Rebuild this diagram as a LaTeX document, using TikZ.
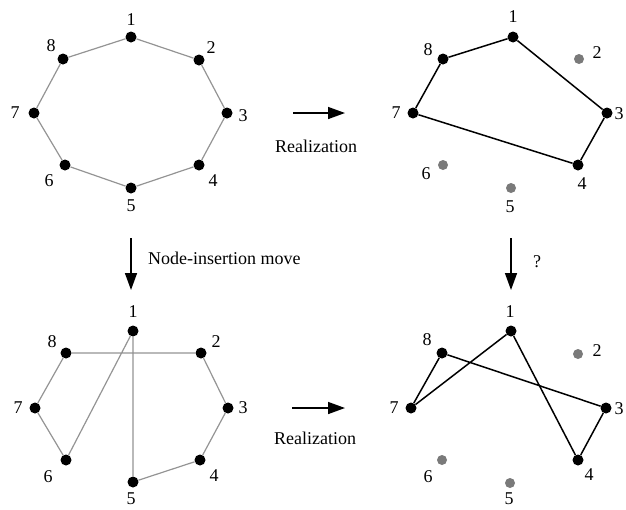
\documentclass[tikz,border=0pt]{standalone}
\usepackage{fontspec}
\setmainfont{Liberation Serif}
\usetikzlibrary{arrows.meta}

\tikzset{
  vtx/.style={circle, fill=black, inner sep=0pt, minimum size=11pt},
  ghost/.style={circle, fill=black!52, inner sep=0pt, minimum size=10pt},
  num/.style={font=\fontsize{18}{20}\selectfont, inner sep=0pt},
  greyedge/.style={draw=black!42, line width=1.2pt},
  realedge/.style={draw=black, line width=1.5pt},
  move/.style={line width=1.5pt, -{Triangle[length=17pt, width=12pt]}},
}

\begin{document}
\begin{tikzpicture}[x=1pt, y=-1pt]
    \useasboundingbox (0,0) rectangle (626,509);

    % Top left: the original cycle
    \node[vtx] (a1) at (131,37) {};
    \node[vtx] (a2) at (199,60) {};
    \node[vtx] (a3) at (227,113) {};
    \node[vtx] (a4) at (199,165) {};
    \node[vtx] (a5) at (131,188) {};
    \node[vtx] (a6) at (65,165) {};
    \node[vtx] (a7) at (34,113) {};
    \node[vtx] (a8) at (63,59) {};
    \node[num] (a1l) at (131,20) {1};
    \node[num] (a2l) at (211,48) {2};
    \node[num] (a3l) at (243,116) {3};
    \node[num] (a4l) at (213,181) {4};
    \node[num] (a5l) at (131,206) {5};
    \node[num] (a6l) at (49,181) {6};
    \node[num] (a7l) at (15,113) {7};
    \node[num] (a8l) at (51,46) {8};
    \draw[greyedge] (a1) -- (a2) -- (a3) -- (a4) -- (a5) -- (a6) -- (a7) -- (a8) -- (a1);

    % Top right: its realization
    \node[vtx] (b1) at (513,37) {};
    \node[ghost] (b2) at (579,59) {};
    \node[vtx] (b3) at (607,113) {};
    \node[vtx] (b4) at (578,165) {};
    \node[ghost] (b5) at (511,188) {};
    \node[ghost] (b6) at (443,165) {};
    \node[vtx] (b7) at (413,113) {};
    \node[vtx] (b8) at (443,59) {};
    \node[num] (b1l) at (513,17) {1};
    \node[num] (b2l) at (597,53) {2};
    \node[num] (b3l) at (619,114) {3};
    \node[num] (b4l) at (582,184) {4};
    \node[num] (b5l) at (510,207) {5};
    \node[num] (b6l) at (426,174) {6};
    \node[num] (b7l) at (396,113) {7};
    \node[num] (b8l) at (428,50) {8};
    \draw[realedge] (b1) -- (b8) -- (b7) -- (b4) -- (b3) -- (b1);

    % Bottom left: after the node-insertion move
    \node[vtx] (c1) at (133,331) {};
    \node[vtx] (c2) at (201,353) {};
    \node[vtx] (c3) at (228,408) {};
    \node[vtx] (c4) at (200,460) {};
    \node[vtx] (c5) at (133,482) {};
    \node[vtx] (c6) at (66,460) {};
    \node[vtx] (c7) at (35,408) {};
    \node[vtx] (c8) at (66,353) {};
    \node[num] (c1l) at (133,312) {1};
    \node[num] (c2l) at (216,342) {2};
    \node[num] (c3l) at (243,408) {3};
    \node[num] (c4l) at (214,476) {4};
    \node[num] (c5l) at (131,499) {5};
    \node[num] (c6l) at (48,477) {6};
    \node[num] (c7l) at (18,408) {7};
    \node[num] (c8l) at (52,342) {8};
    \draw[greyedge] (c8) -- (c2) -- (c3) -- (c4) -- (c5) -- (c1) -- (c6) -- (c7) -- (c8);

    % Bottom right: its realization
    \node[vtx] (d1) at (511,331) {};
    \node[ghost] (d2) at (578,354) {};
    \node[vtx] (d3) at (606,408) {};
    \node[vtx] (d4) at (578,460) {};
    \node[ghost] (d5) at (510,483) {};
    \node[ghost] (d6) at (442,460) {};
    \node[vtx] (d7) at (411,408) {};
    \node[vtx] (d8) at (442,353) {};
    \node[num] (d1l) at (510,312) {1};
    \node[num] (d2l) at (597,351) {2};
    \node[num] (d3l) at (619,409) {3};
    \node[num] (d4l) at (589,475) {4};
    \node[num] (d5l) at (509,499) {5};
    \node[num] (d6l) at (428,477) {6};
    \node[num] (d7l) at (394,408) {7};
    \node[num] (d8l) at (427,340) {8};
    \draw[realedge] (d8) -- (d7) -- (d1) -- (d4) -- (d3) -- (d8);

    % Moves between the panels
    \coordinate (h1s) at (293,113);
    \coordinate (h1e) at (345,113);
    \coordinate (h2s) at (292,408);
    \coordinate (h2e) at (345,408);
    \coordinate (v1s) at (131,238);
    \coordinate (v1e) at (131,290);
    \coordinate (v2s) at (511,238);
    \coordinate (v2e) at (511,290);
    \draw[move] (h1s) -- (h1e);
    \draw[move] (h2s) -- (h2e);
    \draw[move] (v1s) -- (v1e);
    \draw[move] (v2s) -- (v2e);
    \node[num] (real1) at (316,146) {Realization};
    \node[num] (real2) at (315,438) {Realization};
    \node[num, anchor=west] (insert) at (148,258) {Node-insertion move};
    \node[num] (query) at (537,262) {?};
\end{tikzpicture}
\end{document}
